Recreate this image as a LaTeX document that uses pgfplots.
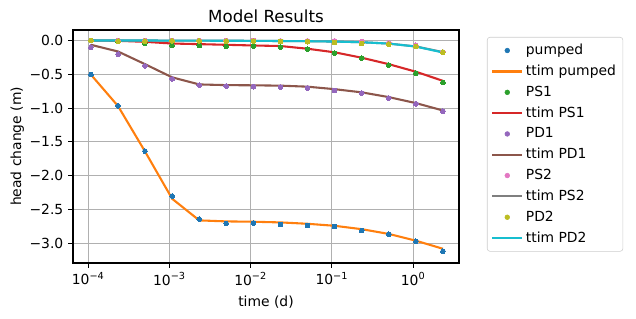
\documentclass[border=0pt]{standalone}
\usepackage{fontspec}
\setmainfont{DejaVu Sans}
\usepackage{pgfplots}
\pgfplotsset{compat=1.18}

\definecolor{C0}{HTML}{1F77B4}
\definecolor{C1}{HTML}{FF7F0E}
\definecolor{C2}{HTML}{2CA02C}
\definecolor{C3}{HTML}{D62728}
\definecolor{C4}{HTML}{9467BD}
\definecolor{C5}{HTML}{8C564B}
\definecolor{C6}{HTML}{E377C2}
\definecolor{C7}{HTML}{7F7F7F}
\definecolor{C8}{HTML}{BCBD22}
\definecolor{C9}{HTML}{17BECF}
\definecolor{gridgray}{HTML}{B0B0B0}
\definecolor{legframe}{HTML}{CCCCCC}

\pgfplotsset{
  obs/.style={only marks, mark=*, mark size=1.7pt, color=#1,
    mark options={draw=#1, fill=#1, line width=0pt},
    legend image code/.code={\fill[#1] (0.375cm,0cm) circle (1.7pt);}},
  sim/.style={no marks, line width=1.5pt, color=#1,
    legend image code/.code={\draw[#1, line width=1.5pt] (0cm,0cm) -- (0.75cm,0cm);}},
}

% observation times (days)
\pgfplotstableread{
t        pumped  ttimpumped  PS1     ttimPS1  PD1     ttimPD1  PS2     ttimPS2  PD2     ttimPD2
1.08e-4  -0.505  -0.505      0.000   0.000    -0.100  -0.064   0.000   0.000    0.000   0.000
2.33e-4  -0.965  -0.970      -0.015  -0.005   -0.203  -0.163   0.000   0.000    -0.010  0.000
5.00e-4  -1.635  -1.640      -0.040  -0.020   -0.377  -0.350   0.000   0.000    -0.010  0.000
1.08e-3  -2.300  -2.340      -0.074  -0.045   -0.568  -0.545   0.000   -0.002   -0.005  -0.002
2.33e-3  -2.640  -2.660      -0.074  -0.054   -0.660  -0.650   0.000   -0.003   -0.005  -0.003
5.00e-3  -2.705  -2.675      -0.084  -0.064   -0.673  -0.660   0.000   -0.004   -0.010  -0.004
1.08e-2  -2.700  -2.680      -0.084  -0.074   -0.683  -0.663   0.000   -0.005   -0.010  -0.005
2.33e-2  -2.720  -2.690      -0.100  -0.082   -0.688  -0.668   -0.005  -0.008   -0.014  -0.008
5.00e-2  -2.735  -2.710      -0.128  -0.122   -0.703  -0.683   -0.005  -0.011   -0.018  -0.011
1.08e-1  -2.750  -2.740      -0.188  -0.175   -0.738  -0.720   -0.005  -0.016   -0.030  -0.016
2.33e-1  -2.810  -2.790      -0.260  -0.255   -0.777  -0.767   -0.015  -0.026   -0.045  -0.026
5.00e-1  -2.865  -2.860      -0.365  -0.350   -0.851  -0.837   -0.035  -0.046   -0.055  -0.046
1.08     -2.970  -2.960      -0.485  -0.462   -0.936  -0.926   -0.072  -0.088   -0.090  -0.090
2.33     -3.115  -3.080      -0.620  -0.597   -1.045  -1.035   -0.170  -0.172   -0.173  -0.178
}\heads

\begin{document}
\begin{tikzpicture}[x=1pt,y=1pt]
\path[use as bounding box] (-52.56,-40.32) rectangle (405.36,189.36);
\begin{axis}[
  at={(0,0)}, anchor=south west,
  scale only axis, width=277.92pt, height=167.76pt,
  xmode=log, log basis x=10,
  xmin=6.5e-5, xmax=3.67,
  ymin=-3.29, ymax=0.155,
  xtick={1e-4,1e-3,1e-2,1e-1,1},
  xticklabels={10\textsuperscript{−4},10\textsuperscript{−3},10\textsuperscript{−2},10\textsuperscript{−1},10\textsuperscript{0}},
  ytick={-3,-2.5,-2,-1.5,-1,-0.5,0},
  yticklabels={−3.0,−2.5,−2.0,−1.5,−1.0,−0.5,0.0},
  tick align=outside,
  major tick length=3.5pt, minor tick length=2pt,
  tick style={black, line width=0.8pt},
  minor tick style={black, line width=0.6pt},
  xtick pos=bottom, ytick pos=left,
  xmajorgrids, ymajorgrids,
  major grid style={gridgray, line width=0.8pt},
  axis line style={black, line width=0.8pt},
  tick label style={font=\fontsize{10}{12}\selectfont},
  label style={font=\fontsize{10}{12}\selectfont},
  xlabel={time (d)},
  ylabel={head change (m)},
  xlabel style={yshift=-1pt},
  ylabel style={yshift=-3pt},
  title={Model Results},
  title style={font=\fontsize{12}{14}\selectfont, yshift=-4pt},
  legend style={
    at={(1.0725,0.970)}, anchor=north west,
    draw=legframe, rounded corners=2pt, fill=white,
    font=\fontsize{10}{12}\selectfont,
    row sep=2pt, inner xsep=3pt, inner ysep=3pt,
    cells={anchor=west},
  },
  legend cell align=left,
]
\addplot[obs=C0] table[x=t, y=pumped] {\heads};
\addlegendentry{pumped}
\addplot[sim=C1] table[x=t, y=ttimpumped] {\heads};
\addlegendentry{ttim pumped}
\addplot[obs=C2] table[x=t, y=PS1] {\heads};
\addlegendentry{PS1}
\addplot[sim=C3] table[x=t, y=ttimPS1] {\heads};
\addlegendentry{ttim PS1}
\addplot[obs=C4] table[x=t, y=PD1] {\heads};
\addlegendentry{PD1}
\addplot[sim=C5] table[x=t, y=ttimPD1] {\heads};
\addlegendentry{ttim PD1}
\addplot[obs=C6] table[x=t, y=PS2] {\heads};
\addlegendentry{PS2}
\addplot[sim=C7] table[x=t, y=ttimPS2] {\heads};
\addlegendentry{ttim PS2}
\addplot[obs=C8] table[x=t, y=PD2] {\heads};
\addlegendentry{PD2}
\addplot[sim=C9] table[x=t, y=ttimPD2] {\heads};
\addlegendentry{ttim PD2}
\end{axis}
\end{tikzpicture}
\end{document}
